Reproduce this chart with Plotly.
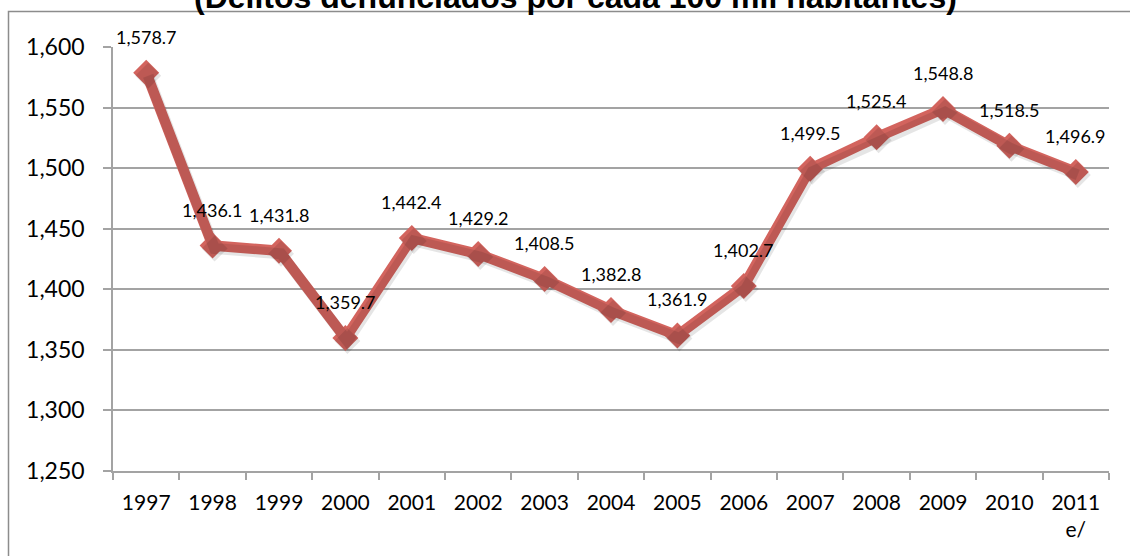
import plotly.graph_objects as go

# Delitos denunciados por cada 100 mil habitantes, 1997-2011
years = ["1997", "1998", "1999", "2000", "2001", "2002", "2003", "2004",
         "2005", "2006", "2007", "2008", "2009", "2010", "2011"]
tick_labels = ["1997", "1998", "1999", "2000", "2001", "2002", "2003", "2004",
               "2005", "2006", "2007", "2008", "2009", "2010", "2011<br>e/"]
rate = [1578.7, 1436.1, 1431.8, 1359.7, 1442.4, 1429.2, 1408.5, 1382.8,
        1361.9, 1402.7, 1499.5, 1525.4, 1548.8, 1518.5, 1496.9]
y_ticks = [1250, 1300, 1350, 1400, 1450, 1500, 1550, 1600]

title_text = "(Delitos denunciados por cada 100 mil habitantes)"

W, H = 1130, 556
ML, MR, MT, MB = 113, 19, 47, 82
PW, PH = W - ML - MR, H - MT - MB
SHX, SHY = 2, 3  # drop-shadow offset in pixels

def px_x(p):
    return (p - ML) / PW

def px_y(p):
    return (H - MB - p) / PH

LINE_COLOR = "#D3645E"
GRID = "#A3A3A3"

fig = go.Figure()

# soft shadow under the series, drawn on a slightly offset pair of axes
fig.add_trace(go.Scatter(
    x=years, y=rate, xaxis="x2", yaxis="y2", mode="lines+markers",
    line=dict(color="rgba(0,0,0,0.10)", width=11),
    marker=dict(symbol="diamond", size=20, color="rgba(0,0,0,0.10)"),
    hoverinfo="skip", showlegend=False,
))

fig.add_trace(go.Scatter(
    x=years, y=rate, xaxis="x", yaxis="y", mode="lines+markers",
    line=dict(color=LINE_COLOR, width=10.5),
    marker=dict(symbol="diamond", size=20, color=LINE_COLOR,
                line=dict(width=0)),
    showlegend=False,
))

# value labels above each point (category axis -> positional index)
annotations = [
    dict(x=i, y=v, xref="x", yref="y", text=f"{v:,.1f}", showarrow=False,
         yshift=36, font=dict(family="Lato", size=18, color="black"))
    for i, v in enumerate(rate)
]
annotations.append(dict(
    x=px_x(575), y=px_y(-3), xref="paper", yref="paper", text=f"<b>{title_text}</b>",
    showarrow=False, xanchor="center", yanchor="middle",
    font=dict(family="Liberation Sans, Arial", size=32, color="black"),
))

axis_common = dict(showline=True, linecolor=GRID, linewidth=1.5,
                   ticks="outside", tickcolor=GRID, tickwidth=1.5)

fig.update_layout(
    width=W, height=H,
    margin=dict(l=ML, r=MR, t=MT, b=MB, pad=0),
    paper_bgcolor="white", plot_bgcolor="rgba(0,0,0,0)",
    xaxis=dict(
        type="category", domain=[0, 1 - SHX / PW], range=[-0.5, 14.5],
        tickmode="array", tickvals=years, ticktext=tick_labels,
        tickson="boundaries", ticklen=7, showgrid=False, anchor="y",
        tickfont=dict(family="Lato", size=21, color="black"),
        ticklabelstandoff=12, **axis_common,
    ),
    yaxis=dict(
        domain=[SHY / PH, 1], range=[1250, 1600], tickvals=y_ticks, anchor="x",
        tickformat=",", ticklen=8, showgrid=True, gridcolor=GRID, gridwidth=1.5,
        zeroline=False, tickfont=dict(family="Lato", size=23, color="black"),
        ticklabelstandoff=14, **axis_common,
    ),
    xaxis2=dict(type="category", domain=[SHX / PW, 1], range=[-0.5, 14.5],
                visible=False, anchor="y2"),
    yaxis2=dict(domain=[0, 1 - SHY / PH], range=[1250, 1600], visible=False,
                anchor="x2"),
    annotations=annotations,
    shapes=[dict(type="rect", xref="paper", yref="paper",
                 x0=px_x(8.5), x1=px_x(W + 20), y0=px_y(H + 20), y1=px_y(11.5),
                 line=dict(color="#8C8C8C", width=1.5), layer="below")],
)

fig.write_html("out.html")
